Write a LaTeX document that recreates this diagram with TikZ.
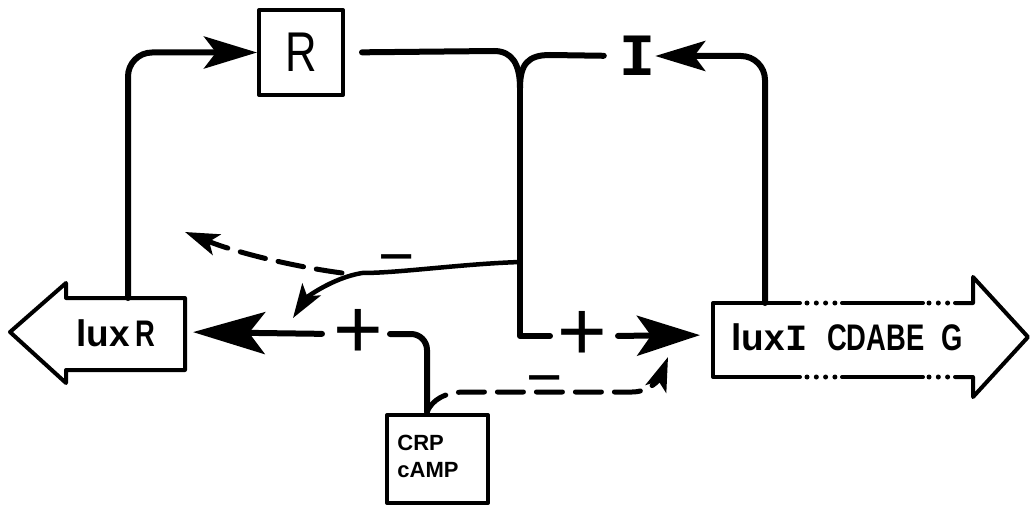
\documentclass[tikz,border=0pt]{standalone}
\usepackage{fontspec}
\setmainfont{Liberation Sans}
\newfontfamily\gsans{Liberation Sans}
\newfontfamily\gnarrow[FakeStretch=0.74]{Liberation Sans}
\newfontfamily\gmono{Liberation Mono}
\usetikzlibrary{arrows.meta}
\begin{document}
\begin{tikzpicture}[x=1pt,y=-1pt,line cap=round,line join=round,
  conn/.style={line width=6pt},
  thinconn/.style={line width=4.5pt},
  dashconn/.style={line width=5pt,dash pattern=on 26pt off 13pt},
  boxline/.style={line width=4pt},
  dotline/.style={line width=5pt,dash pattern=on 0pt off 9.3pt},
  genebox/.style={draw,line width=4pt,inner sep=0pt},
  genetext/.style={inner sep=0pt,font=\gsans\bfseries\fontsize{37}{40}\selectfont},
  sym/.style={inner sep=0pt,font=\gsans\fontsize{85}{85}\selectfont},
  minus/.style={inner sep=0pt,font=\gsans\fontsize{62}{62}\selectfont},
  bigA/.tip={Stealth[length=72pt,width=42pt,inset=16pt]},
  bigB/.tip={Stealth[length=63pt,width=40pt,inset=14pt]},
  bigR/.tip={Stealth[length=53pt,width=32pt,inset=12pt]},
  bigI/.tip={Stealth[length=50pt,width=30pt,inset=11pt]},
  smallA/.tip={Stealth[length=34pt,width=22pt,inset=8pt]},
]
\path[use as bounding box] (0,0) rectangle (1035,508);

% luxR gene arrow outline
\draw[boxline] (10,332) -- (66,283) -- (66,298) -- (185,298) -- (185,370)
  -- (66,370) -- (66,383) -- cycle;
\node[genetext] (luxR) at (116,333) {lux\,{\gnarrow R}};
\coordinate (luxRtop) at (128,298);
\coordinate (luxRend) at (185,332);

% luxI operon arrow outline
\draw[boxline] (800,303) -- (713,303) -- (713,377) -- (800,377);
\draw[boxline] (842,303) -- (923,303);
\draw[boxline] (842,377) -- (923,377);
\draw[boxline] (955,303) -- (973,303) -- (973,277) -- (1028,337) -- (973,397)
  -- (973,377) -- (955,377);
\draw[dotline] (807,303) -- (836,303);
\draw[dotline] (807,377) -- (836,377);
\draw[dotline] (929,303) -- (948,303);
\draw[dotline] (929,377) -- (948,377);
\node[genetext] (luxI) at (847,337) {lux\kern1pt{\gmono\bfseries I}\hspace{19pt}{\gnarrow CDABE}\hspace{17pt}{\gnarrow G}};
\coordinate (luxItop) at (765,303);
\coordinate (luxIin) at (713,335);
\coordinate (luxIprom) at (668,357);

% R protein box
\node[genebox,minimum width=84pt,minimum height=85pt,
  font=\gsans\fontsize{56}{56}\selectfont] (R) at (301,52.5) {\scalebox{0.78}[1]{R}};

% autoinducer I
\node[inner sep=0pt,font=\gmono\bfseries\fontsize{60}{60}\selectfont] (I) at (637,56) {I};

% CRP/cAMP box
\node[genebox,minimum width=101pt,minimum height=88pt] (CRP) at (437.5,459) {};
\node[inner sep=0pt,align=left,font=\gsans\bfseries\fontsize{22}{27}\selectfont] (CRPlab) at (428,456) {CRP\\cAMP};
\coordinate (crpTop) at (427,412);

% signs
\node[sym] (p1) at (582,336) {+};
\node[sym] (p2) at (358,334) {+};
\node[minus] (m1) at (397,266) {−};
\node[minus] (m2) at (545,387) {−};

% junction points
\coordinate (J) at (520,88);
\coordinate (Jm) at (520,262);
\coordinate (Bm) at (362,273);
\coordinate (Bd) at (342,273);
\coordinate (negR) at (293,318);
\coordinate (autoR) at (185,232);

% luxR -> R
\draw[conn,rounded corners=24pt,-{bigR}] (luxRtop) |- (R.west);
% R -> junction with I
\draw[conn,shorten <=17pt] (R.east) -- (494,51) .. controls (512,51) and (520,64) .. (J);
\draw[conn,shorten >=15pt] (J) .. controls (520,64) and (528,55) .. (550,55) -- (I.west);
% luxI -> I
\draw[conn,rounded corners=24pt,-{bigI}] (luxItop) |- (I.east);
% R-I complex activates luxI
\draw[conn,shorten >=7pt] (J) |- (p1.west);
\draw[conn,shorten <=11pt,shorten >=13pt,-{bigB}] (p1.east) -- (luxIin);
% R-I complex represses luxR
\draw[thinconn,-{smallA}] (Jm) .. controls (460,264) and (400,273) .. (Bm)
  .. controls (332,278) and (306,298) .. (negR);
\draw[dashconn,-{smallA}] (Bd) .. controls (290,266) and (235,252) .. (autoR);
% CRP activates luxR
\draw[conn,rounded corners=16pt,shorten >=7pt] (crpTop) |- (p2.east);
\draw[conn,shorten <=11pt,shorten >=8pt,-{bigA}] (p2.west) -- (luxRend);
% CRP represses luxI
\draw[dashconn,-{smallA}] (crpTop) .. controls (432,400) and (445,392) .. (465,392)
  -- (632,392) .. controls (650,392) and (660,378) .. (luxIprom);
\end{tikzpicture}
\end{document}
